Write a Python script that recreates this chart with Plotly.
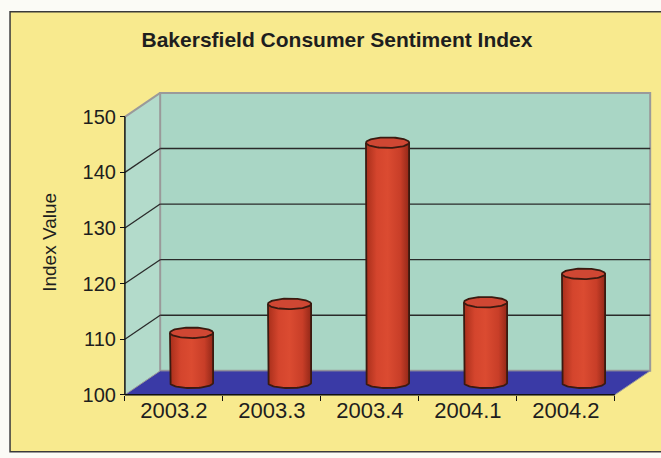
import numpy as np
import plotly.graph_objects as go

# Quarterly index readings
quarters = ["2003.2", "2003.3", "2003.4", "2004.1", "2004.2"]
index_values = [109.0, 114.2, 143.2, 114.5, 119.6]
y_ticks = [100, 110, 120, 130, 140, 150]

# Pseudo-3D geometry (in axis units)
DX = 0.36      # depth offset along x (category units)
DY = 4.3       # depth offset along y (index units)
RX = 0.22      # cylinder radius along x
RY = 0.95      # ellipse half-height along y
Y0, Y1 = 100, 150
N = len(quarters)

YELLOW = "#f8ea8e"
WALL = "#a9d6c5"
SIDE = "#b3dbcb"
FLOOR = "#3a3aa6"
EDGE = "#9a9a9a"
OUTLINE = "#3a1a10"

fig = go.Figure()

# Cylinders: body with shaded fill and rounded bottom, then top ellipse
t_low = np.linspace(np.pi, 2 * np.pi, 40)
t_full = np.linspace(0, 2 * np.pi, 80)
for i, (q, v) in enumerate(zip(quarters, index_values)):
    cx = i + 0.5 + DX / 2
    base = Y0 + DY / 2
    top = v + DY / 2
    bx = np.concatenate([[cx - RX, cx - RX], cx + RX * np.cos(t_low), [cx + RX, cx - RX]])
    by = np.concatenate([[top, base], base + RY * np.sin(t_low), [top, top]])
    fig.add_trace(go.Scatter(
        x=bx, y=by, mode="lines", fill="toself",
        line=dict(color=OUTLINE, width=1.8),
        fillgradient=dict(type="horizontal", colorscale=[
            [0.0, "#a82f1b"], [0.25, "#d4452d"], [0.5, "#db4b31"],
            [0.8, "#c83e28"], [1.0, "#932818"]]),
        hoverinfo="skip", showlegend=False, name=q))
    ex = cx + RX * np.cos(t_full)
    ey = top + RY * np.sin(t_full)
    fig.add_trace(go.Scatter(
        x=ex, y=ey, mode="lines", fill="toself",
        line=dict(color=OUTLINE, width=1.8),
        fillcolor="#cf4733",
        hovertemplate=f"{q}: {v}<extra></extra>", showlegend=False))

shapes = []
# Outer yellow frame
shapes.append(dict(type="rect", xref="paper", yref="paper",
                   x0=-0.204, x1=1.06, y0=-0.178, y1=1.2506,
                   fillcolor=YELLOW, line=dict(color="#3a3a3a", width=1.5),
                   layer="below"))
# Side wall
shapes.append(dict(type="path", xref="x", yref="y", layer="below",
                   path=f"M0,{Y0} L0,{Y1} L{DX},{Y1 + DY} L{DX},{Y0 + DY} Z",
                   fillcolor=SIDE, line=dict(width=0)))
# Back wall
shapes.append(dict(type="rect", xref="x", yref="y", layer="below",
                   x0=DX, x1=N + DX, y0=Y0 + DY, y1=Y1 + DY,
                   fillcolor=WALL, line=dict(color=EDGE, width=2)))
# Floor
shapes.append(dict(type="path", xref="x", yref="y", layer="below",
                   path=f"M0,{Y0} L{N},{Y0} L{N + DX},{Y0 + DY} L{DX},{Y0 + DY} Z",
                   fillcolor=FLOOR, line=dict(color=EDGE, width=1)))
# Edge from front-top of the value axis to back-top corner
shapes.append(dict(type="line", xref="x", yref="y", layer="below",
                   x0=0, y0=Y1, x1=DX, y1=Y1 + DY, line=dict(color=EDGE, width=2)))
# Gridlines on side and back walls
for t in y_ticks[1:-1]:
    shapes.append(dict(type="line", xref="x", yref="y", layer="below",
                       x0=0, y0=t, x1=DX, y1=t + DY,
                       line=dict(color="#2a2a2a", width=1.3)))
    shapes.append(dict(type="line", xref="x", yref="y", layer="below",
                       x0=DX, y0=t + DY, x1=N + DX, y1=t + DY,
                       line=dict(color="#2a2a2a", width=1.3)))
# Front axis lines
shapes.append(dict(type="line", xref="x", yref="y", layer="above",
                   x0=0, y0=Y0, x1=0, y1=Y1, line=dict(color="#111", width=1.5)))
shapes.append(dict(type="line", xref="x", yref="y", layer="above",
                   x0=0, y0=Y0, x1=N, y1=Y0, line=dict(color="#111", width=1.5)))

XR = [-0.05, 5.45]
YR = [99.6, 155.0]

fig.update_layout(
    width=661, height=458,
    margin=dict(l=120, r=2, t=89, b=61),
    paper_bgcolor="#fbfbf6",
    plot_bgcolor="rgba(0,0,0,0)",
    font=dict(family="Liberation Sans, Arial, sans-serif", color="#1e1e1e"),
    title=dict(text="<b>Bakersfield Consumer Sentiment Index</b>",
               x=337 / 661, y=1 - 40 / 458, xref="container", yref="container",
               xanchor="center", yanchor="middle",
               font=dict(size=21, color="#1e1e1e")),
    xaxis=dict(range=XR, showgrid=False, zeroline=False, showline=False,
               tickvals=[i + 0.5 for i in range(N)], ticktext=quarters,
               ticks="", tickfont=dict(size=22), automargin=False,
               anchor="free", position=(Y0 - YR[0]) / (YR[1] - YR[0]),
               minor=dict(tickvals=list(range(N + 1)), ticks="outside",
                          ticklen=5, tickwidth=1.3, tickcolor="#111",
                          showgrid=False),
               fixedrange=True),
    yaxis=dict(range=YR, showgrid=False, zeroline=False, showline=False,
               tickvals=y_ticks, ticks="outside", ticklen=5, tickwidth=1.3,
               tickcolor="#111", tickfont=dict(size=20), automargin=False,
               anchor="free", position=(0 - XR[0]) / (XR[1] - XR[0]),
               fixedrange=True),
    shapes=shapes,
    annotations=[dict(text="Index Value", textangle=-90,
                      xref="paper", yref="paper",
                      x=(50 - 120) / 539, y=(397.2 - 243) / 308,
                      xanchor="center", yanchor="middle", showarrow=False,
                      font=dict(size=19, color="#1e1e1e"))],
)

fig.write_html("out.html")
